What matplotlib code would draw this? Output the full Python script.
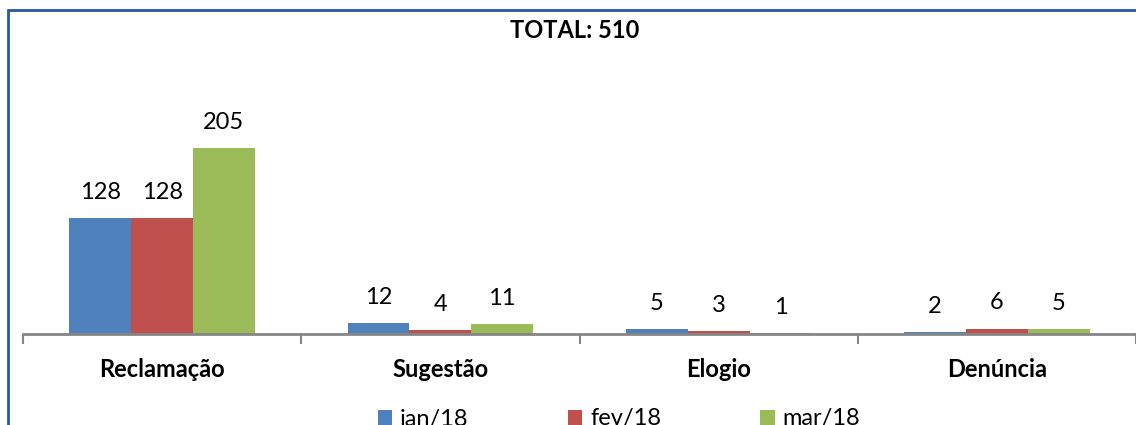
import matplotlib
matplotlib.use('Agg')
import matplotlib.pyplot as plt
import numpy as np
from matplotlib.patches import Rectangle

plt.rcParams['font.family'] = ['Lato', 'DejaVu Sans']

# data
categorias = ['Reclamação', 'Sugestão', 'Elogio', 'Denúncia']
meses = ['jan/18', 'fev/18', 'mar/18']
jan = [128, 12, 5, 2]
fev = [128, 4, 3, 6]
mar = [205, 11, 1, 5]
titulo = 'TOTAL: 510'

cores = ['#4F81BD', '#C0504D', '#9BBB59']

fig = plt.figure(figsize=(11.36, 4.25), dpi=100)
ax = fig.add_axes([23 / 1136, 91 / 425, 1113 / 1136, 274 / 425])

x = np.arange(len(categorias))
w = 0.222
for i, (serie, cor) in enumerate(zip([jan, fev, mar], cores)):
    pos = x + (i - 1) * w
    bars = ax.bar(pos, serie, w, color=cor, label=meses[i], zorder=2)
    for b, v in zip(bars, serie):
        ax.annotate(str(v), (b.get_x() + b.get_width() / 2, v),
                    xytext=(0, 11), textcoords='offset points',
                    ha='center', va='bottom', fontsize=17)

ax.set_xlim(-0.5, len(categorias) - 0.5)
ax.set_ylim(0, 302)
ax.set_yticks([])
for s in ['top', 'right', 'left']:
    ax.spines[s].set_visible(False)
ax.spines['bottom'].set_color('#868686')
ax.spines['bottom'].set_linewidth(2)
ax.set_xticks(np.arange(len(categorias) + 1) - 0.5, minor=False)
ax.set_xticklabels([])
ax.tick_params(axis='x', length=7, width=1.5, color='#868686', direction='out')
for xi, c in zip(x, categorias):
    ax.text(xi, -0.128, c, transform=ax.get_xaxis_transform(), ha='center',
            va='center', fontsize=17, fontweight='bold')

fig.text(575 / 1136, 1 - 31 / 425, titulo, ha='center', va='center',
         fontsize=17, fontweight='bold')

leg = fig.legend(loc='center', bbox_to_anchor=(0.545, 1 - 419 / 425), ncol=3,
                 frameon=False, fontsize=17, handlelength=0.6, handleheight=0.6,
                 columnspacing=4.2, handletextpad=0.35)

fig.patches.append(Rectangle((7.5 / 1136, -0.1), 1.2, 1 - 10.5 / 425 + 0.1,
                             transform=fig.transFigure, fill=False,
                             edgecolor='#2A579A', linewidth=2))

fig.savefig('out.png', dpi=100)
